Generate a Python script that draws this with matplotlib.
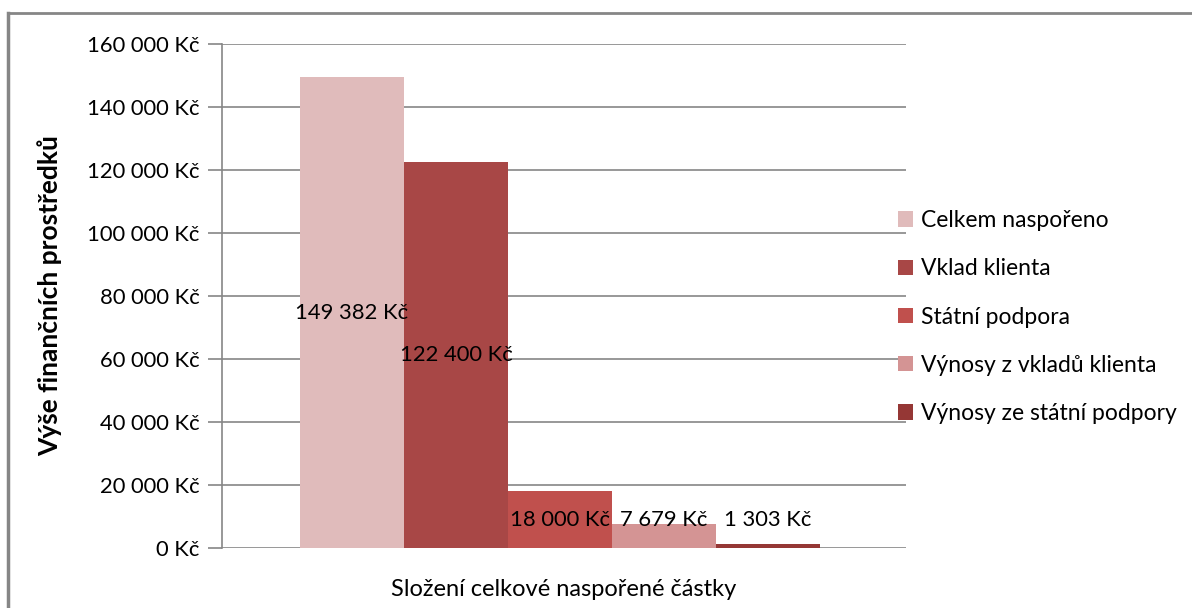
import matplotlib.pyplot as plt
from matplotlib.lines import Line2D
from matplotlib.ticker import FuncFormatter

plt.rcParams['font.family'] = ['Lato', 'DejaVu Sans']

# podíly naspořené částky
series = ['Celkem naspořeno', 'Vklad klienta', 'Státní podpora',
          'Výnosy z vkladů klienta', 'Výnosy ze státní podpory']
values = [149382, 122400, 18000, 7679, 1303]
colors = ['#E0BBBB', '#A84746', '#C0504D', '#D49494', '#953735']
yticks = [0, 20000, 40000, 60000, 80000, 100000, 120000, 140000, 160000]

def kc(v):
    return '{:,.0f} Kč'.format(v).replace(',', ' ')

W, H = 1192, 608
fig = plt.figure(figsize=(W / 100, H / 100), dpi=100)
ax = fig.add_axes([222 / W, 1 - 548 / H, (906 - 222) / W, (548 - 44) / H])

bw = 104
x0 = 300
for i, (name, v, c) in enumerate(zip(series, values, colors)):
    xc = x0 + bw * i + bw / 2
    ax.bar(xc, v, width=bw, color=c, label=name, zorder=2)
    ax.text(xc, max(v / 2, 8800), kc(v), ha='center', va='center',
            fontsize=15.8, color='black', zorder=3)

ax.set_xlim(222, 906)
ax.set_ylim(0, 160000)
ax.set_yticks(yticks)
ax.yaxis.set_major_formatter(FuncFormatter(lambda v, p: kc(v)))
ax.grid(axis='y', color='#868686', linewidth=1.2, zorder=0)
ax.set_xticks([])
for s in ['top', 'right', 'bottom']:
    ax.spines[s].set_visible(False)
ax.spines['left'].set_color('#868686')
ax.spines['left'].set_linewidth(1.2)
ax.tick_params(axis='y', length=10, width=1.2, color='#868686',
               labelsize=15.8, pad=6)
ax.set_ylabel('Výše finančních prostředků', fontsize=19,
              fontweight='bold', labelpad=18)
ax.set_xlabel('Složení celkové naspořené částky', fontsize=17, labelpad=22)

# legenda vpravo
handles, labels = ax.get_legend_handles_labels()
fig.legend(handles, labels, loc='center left',
           bbox_to_anchor=(877 / W, 1 - 317 / H), frameon=False,
           fontsize=16.5, handlelength=0.65, handleheight=0.65,
           handletextpad=0.35, labelspacing=1.19)

# rámeček grafu (horní a levá hrana)
fig.add_artist(Line2D([8 / W, 1], [1 - 12.5 / H] * 2, color='#868686',
                      linewidth=2, transform=fig.transFigure))
fig.add_artist(Line2D([8 / W] * 2, [0, 1 - 12.5 / H], color='#868686',
                      linewidth=2.5, transform=fig.transFigure))

fig.savefig('out.png', dpi=100)
